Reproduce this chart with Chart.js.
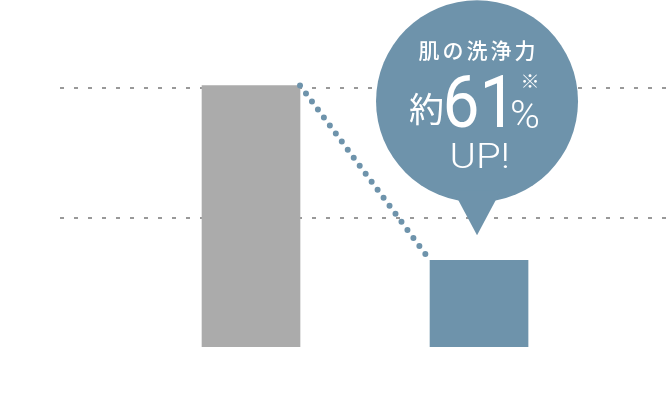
<!DOCTYPE html>
<html><head><meta charset="utf-8">
<script src="https://cdn.jsdelivr.net/npm/chart.js@4.4.1/dist/chart.umd.min.js"></script>
<style>html,body{margin:0;padding:0;background:#fff;overflow:hidden}#wrap{width:670px;height:407px;position:relative}</style>
</head><body><div id="wrap"><canvas id="c"></canvas></div>
<script>
const categories = ['従来品', '本品'];
const positions = [1, 2];
const values = [101, 33.5];
const barColors = ['#ababab', '#6e93ab'];
const gridTicks = [50, 100];
const bubbleTitle = '肌の洗浄力';
const bubblePrefix = '約';
const bubbleValue = '61';
const bubbleUnit = '%';
const bubbleNote = '※';
const bubbleTail = 'UP!';

const BLUE = '#6e93ab';
const JP = '"Noto Sans CJK JP", "Noto Sans", sans-serif';
const LAT = 'Roboto, "Noto Sans", sans-serif';

// measure the real ink box of a text by rendering it off-screen
function inkBounds(text, font) {
  const c = document.createElement('canvas');
  c.width = 400; c.height = 240;
  const g = c.getContext('2d');
  g.font = font; g.textAlign = 'left'; g.textBaseline = 'alphabetic';
  g.fillStyle = '#000';
  const ox = 40, oy = 180;
  g.fillText(text, ox, oy);
  const d = g.getImageData(0, 0, c.width, c.height).data;
  let l = c.width, t = c.height, r = -1, b = -1;
  for (let y = 0; y < c.height; y++) {
    for (let x = 0; x < c.width; x++) {
      if (d[(y * c.width + x) * 4 + 3] > 96) {
        if (x < l) l = x; if (x > r) r = x; if (y < t) t = y; if (y > b) b = y;
      }
    }
  }
  return { l: l - ox, t: t - oy, r: r + 1 - ox, b: b + 1 - oy };
}

function inkText(ctx, text, font, x0, y0, x1, y1) {
  const k = inkBounds(text, font);
  ctx.save();
  ctx.font = font;
  ctx.textAlign = 'left';
  ctx.textBaseline = 'alphabetic';
  const sx = (x1 - x0) / (k.r - k.l), sy = (y1 - y0) / (k.b - k.t);
  ctx.translate(x0, y0);
  ctx.scale(sx, sy);
  ctx.fillText(text, -k.l, -k.t);
  ctx.restore();
}

const connector = {
  id: 'connector',
  afterDatasetsDraw(chart) {
    const bars = chart.getDatasetMeta(0).data;
    const a = bars[0], b = bars[1];
    const ctx = chart.ctx;
    ctx.save();
    ctx.strokeStyle = BLUE;
    ctx.lineWidth = 6;
    ctx.lineCap = 'round';
    ctx.setLineDash([0, 10]);
    ctx.beginPath();
    ctx.moveTo(a.x + a.width / 2, a.y);
    ctx.lineTo(b.x - b.width / 2, b.y);
    ctx.stroke();
    ctx.restore();
  }
};

const bubble = {
  id: 'bubble',
  afterDraw(chart) {
    const b = chart.getDatasetMeta(0).data[1];
    const ctx = chart.ctx;
    const tipX = b.x - 2, tipY = b.y - 25;
    const r = 101, cx = tipX, cy = tipY - 134;
    ctx.save();
    ctx.fillStyle = BLUE;
    ctx.beginPath();
    ctx.arc(cx, cy, r, 0, Math.PI * 2);
    ctx.fill();
    ctx.beginPath();
    ctx.moveTo(cx - 24, cy + 89);
    ctx.lineTo(tipX, tipY);
    ctx.lineTo(cx + 24, cy + 89);
    ctx.closePath();
    ctx.fill();

    ctx.fillStyle = '#fff';
    ctx.font = '500 21px ' + JP;
    ctx.letterSpacing = '3px';
    ctx.textBaseline = 'middle';
    ctx.textAlign = 'left';
    let w = ctx.measureText(bubbleTitle).width - 3;
    ctx.fillText(bubbleTitle, cx - w / 2, cy - 51);
    ctx.letterSpacing = '0px';

    inkText(ctx, bubblePrefix, '400 34px ' + JP, cx - 67, cy - 8, cx - 35, cy + 24);
    inkText(ctx, bubbleValue, '400 73px ' + LAT, cx - 30, cy - 25, cx + 26, cy + 27);
    inkText(ctx, bubbleUnit, '300 39px ' + LAT, cx + 35, cy - 1, cx + 61, cy + 27);
    inkText(ctx, bubbleNote, '400 15px ' + JP, cx + 46, cy - 26, cx + 60, cy - 13);
    inkText(ctx, bubbleTail, '300 35px ' + LAT, cx - 24, cy + 42, cx + 30, cy + 67);
    ctx.restore();
  }
};

function draw() {
  new Chart(document.getElementById('c'), {
    type: 'bar',
    data: {
      labels: categories,
      datasets: [{
        label: bubbleTitle,
        data: positions.map((x, i) => ({ x: x, y: values[i] })),
        backgroundColor: barColors,
        borderWidth: 0,
        barThickness: 98
      }]
    },
    options: {
      responsive: false,
      animation: false,
      layout: { padding: { left: 60, right: 4, top: 0, bottom: 60 } },
      plugins: { legend: { display: false }, tooltip: { enabled: false } },
      scales: {
        x: { type: 'linear', min: 0.1623, max: 2.82, offset: false, display: false },
        y: {
          min: 0, max: 134,
          afterBuildTicks: s => { s.ticks = gridTicks.map(v => ({ value: v })); },
          afterFit: s => { s.width = 0; },
          ticks: { display: false },
          grid: { color: '#999999', lineWidth: 2, drawTicks: false },
          border: { display: false, dash: [4, 10] }
        }
      }
    },
    plugins: [connector, bubble]
  });
}
const cv = document.getElementById('c'); cv.width = 670; cv.height = 407;
Promise.all([
  document.fonts.load('300 73px Roboto'),
  document.fonts.load('400 73px Roboto'),
  document.fonts.load('500 21px "Noto Sans CJK JP"'),
  document.fonts.load('400 34px "Noto Sans CJK JP"')
]).then(draw, draw);
</script>
</body></html>
